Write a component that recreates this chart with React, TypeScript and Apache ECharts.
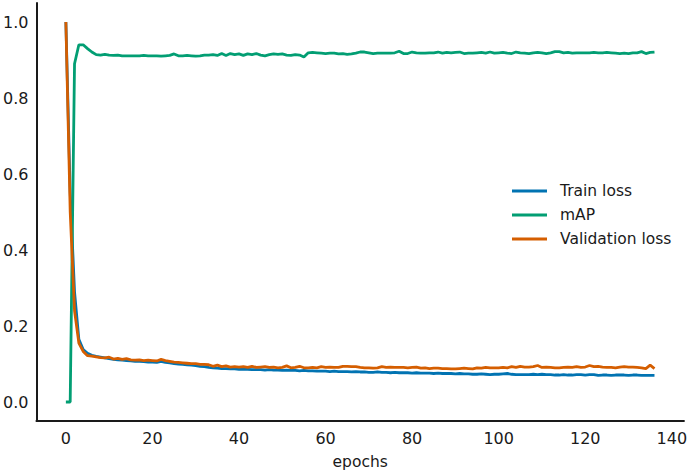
import React, { useEffect, useRef } from "react";
import * as echarts from "echarts";

const seriesNames = ["Train loss", "mAP", "Validation loss"];
const colors = ["#0173b2", "#029e73", "#d55e00"];

const trainLoss = [
  1.0, 0.55, 0.29, 0.165, 0.138, 0.128, 0.123, 0.12, 0.118, 0.116,
  0.114, 0.112, 0.111, 0.11, 0.109, 0.108, 0.107, 0.107, 0.106, 0.105,
  0.105, 0.104, 0.107, 0.104, 0.103, 0.101, 0.1, 0.099, 0.098, 0.097,
  0.096, 0.094, 0.093, 0.091, 0.09, 0.089, 0.088, 0.088, 0.087, 0.087,
  0.086, 0.086, 0.086, 0.085, 0.085, 0.085, 0.084, 0.085, 0.084, 0.084,
  0.083, 0.084, 0.083, 0.083, 0.082, 0.083, 0.082, 0.082, 0.081, 0.081,
  0.081, 0.08, 0.081, 0.08, 0.08, 0.08, 0.079, 0.08, 0.079, 0.079,
  0.078, 0.078, 0.079, 0.078, 0.078, 0.077, 0.078, 0.077, 0.077, 0.077,
  0.076, 0.077, 0.076, 0.076, 0.076, 0.075, 0.076, 0.075, 0.075, 0.075,
  0.074, 0.075, 0.074, 0.074, 0.073, 0.073, 0.074, 0.073, 0.072, 0.073,
  0.073, 0.074, 0.075, 0.073, 0.072, 0.072, 0.072, 0.072, 0.073, 0.072,
  0.073, 0.072, 0.072, 0.071, 0.071, 0.072, 0.071, 0.071, 0.072, 0.072,
  0.071, 0.072, 0.072, 0.07, 0.071, 0.071, 0.07, 0.071, 0.071, 0.071,
  0.07, 0.071, 0.071, 0.07, 0.07, 0.07, 0.07,
];

const mAP = [
  0, 0, 0.89, 0.94, 0.94, 0.93, 0.921, 0.914, 0.913, 0.915,
  0.913, 0.912, 0.913, 0.911, 0.911, 0.911, 0.911, 0.911, 0.912, 0.911,
  0.911, 0.911, 0.91, 0.911, 0.912, 0.916, 0.911, 0.911, 0.912, 0.911,
  0.91, 0.911, 0.913, 0.913, 0.914, 0.912, 0.917, 0.912, 0.917, 0.914,
  0.916, 0.912, 0.916, 0.914, 0.917, 0.913, 0.911, 0.914, 0.916, 0.915,
  0.916, 0.913, 0.912, 0.914, 0.913, 0.908, 0.919, 0.92, 0.919, 0.918,
  0.917, 0.918, 0.918, 0.916, 0.917, 0.915, 0.916, 0.918, 0.921, 0.921,
  0.919, 0.917, 0.918, 0.918, 0.918, 0.918, 0.919, 0.923, 0.917, 0.917,
  0.921, 0.919, 0.918, 0.918, 0.919, 0.919, 0.921, 0.918, 0.92, 0.919,
  0.92, 0.921, 0.917, 0.918, 0.918, 0.919, 0.92, 0.918, 0.921, 0.918,
  0.919, 0.92, 0.918, 0.917, 0.921, 0.919, 0.918, 0.917, 0.919, 0.92,
  0.919, 0.917, 0.919, 0.922, 0.922, 0.919, 0.92, 0.918, 0.919, 0.919,
  0.919, 0.919, 0.92, 0.919, 0.919, 0.92, 0.919, 0.918, 0.917, 0.918,
  0.917, 0.919, 0.919, 0.922, 0.917, 0.92, 0.921,
];

const valLoss = [
  1.0, 0.5, 0.24, 0.155, 0.133, 0.122, 0.121, 0.119, 0.117, 0.116,
  0.118, 0.113, 0.115, 0.112, 0.114, 0.111, 0.11, 0.111, 0.109, 0.11,
  0.109, 0.108, 0.112, 0.109, 0.107, 0.105, 0.104, 0.103, 0.102, 0.101,
  0.101, 0.099, 0.099, 0.098, 0.094, 0.097, 0.093, 0.095, 0.092, 0.093,
  0.092, 0.093, 0.091, 0.094, 0.091, 0.092, 0.093, 0.091, 0.092, 0.09,
  0.091, 0.095, 0.09, 0.091, 0.094, 0.09, 0.09, 0.091, 0.09, 0.093,
  0.091, 0.092, 0.091, 0.091, 0.094, 0.094, 0.093, 0.093, 0.091, 0.09,
  0.09, 0.089, 0.09, 0.093, 0.091, 0.092, 0.091, 0.091, 0.091, 0.09,
  0.091, 0.092, 0.089, 0.09, 0.088, 0.089, 0.089, 0.088, 0.088, 0.087,
  0.087, 0.088, 0.089, 0.088, 0.087, 0.09, 0.089, 0.091, 0.09, 0.09,
  0.09, 0.091, 0.09, 0.093, 0.091, 0.094, 0.092, 0.092, 0.093, 0.096,
  0.091, 0.092, 0.091, 0.09, 0.09, 0.091, 0.092, 0.091, 0.093, 0.091,
  0.092, 0.096, 0.093, 0.094, 0.092, 0.091, 0.091, 0.09, 0.092, 0.093,
  0.092, 0.092, 0.091, 0.09, 0.088, 0.097, 0.088,
];

const xTicks = [0, 20, 40, 60, 80, 100, 120, 140];
const yTicks = [0.0, 0.2, 0.4, 0.6, 0.8, 1.0];

const FONT = "DejaVu Sans";
const INK = "#1a1a1a";

export default function App() {
  const ref = useRef<HTMLDivElement>(null);
  useEffect(() => {
    if (!ref.current) return;
    const chart = echarts.init(ref.current, undefined, { renderer: "svg" });
    const allSeries = [trainLoss, mAP, valLoss];
    const n = trainLoss.length;
    const xMin = -0.05 * (n - 1);
    const xMax = (n - 1) * 1.05;
    chart.setOption({
      animation: false,
      backgroundColor: "#ffffff",
      textStyle: { fontFamily: FONT },
      grid: { left: 33, right: 3, top: 3, bottom: 48, containLabel: false },
      legend: {
        data: seriesNames,
        orient: "vertical",
        left: 507,
        top: 177,
        icon: "rect",
        itemWidth: 35,
        itemHeight: 3,
        itemGap: 6,
        textStyle: {
          fontFamily: FONT,
          fontSize: 15.5,
          color: INK,
          lineHeight: 18,
          padding: [0, 0, 0, 8],
        },
      },
      xAxis: {
        type: "value",
        min: xMin,
        max: xMax,
        minInterval: 20,
        maxInterval: 20,
        name: "epochs",
        nameLocation: "middle",
        nameGap: 33,
        nameTextStyle: { fontFamily: FONT, fontSize: 15.5, color: INK },
        axisLine: { show: true, onZero: false, lineStyle: { color: INK, width: 2 } },
        axisTick: { show: false },
        splitLine: { show: false },
        axisLabel: {
          fontFamily: FONT,
          fontSize: 16,
          color: INK,
          margin: 9,
          showMinLabel: false,
          showMaxLabel: false,
          formatter: (v: number) =>
            xTicks.some((t) => Math.abs(t - v) < 1e-6) ? String(Math.round(v)) : "",
        },
      },
      yAxis: {
        type: "value",
        min: -0.05,
        max: 1.05,
        minInterval: 0.2,
        maxInterval: 0.2,
        axisLine: { show: true, onZero: false, lineStyle: { color: INK, width: 2 } },
        axisTick: { show: false },
        splitLine: { show: false },
        axisLabel: {
          fontFamily: FONT,
          fontSize: 16,
          color: INK,
          margin: 8,
          showMinLabel: false,
          showMaxLabel: false,
          formatter: (v: number) =>
            yTicks.some((t) => Math.abs(t - v) < 1e-6) ? v.toFixed(1) : "",
        },
      },
      series: seriesNames.map((name, i) => ({
        name,
        type: "line",
        data: allSeries[i].map((v, k) => [k, v]),
        showSymbol: false,
        symbol: "none",
        lineStyle: { color: colors[i], width: 2.8 },
        itemStyle: { color: colors[i] },
        z: 2 + i,
      })),
    });
    return () => chart.dispose();
  }, []);
  return (
    <div
      ref={ref}
      style={{ position: "fixed", left: 0, top: 0, width: 690, height: 475 }}
    />
  );
}
